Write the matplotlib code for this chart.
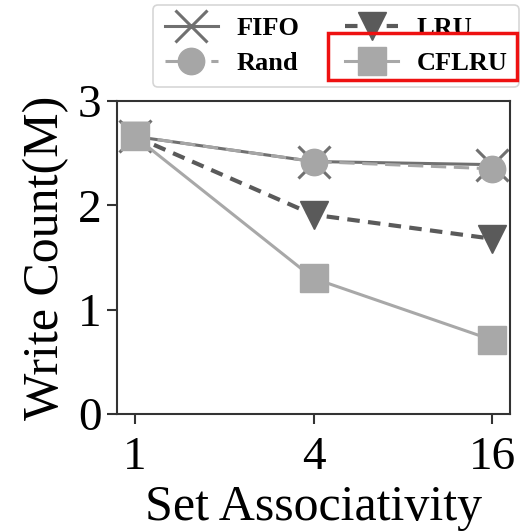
import matplotlib
matplotlib.use("Agg")
import matplotlib.pyplot as plt
from matplotlib.patches import Rectangle

# Data
set_assoc = ["1", "4", "16"]
fifo = [2.66, 2.42, 2.39]
rand = [2.66, 2.42, 2.35]
lru = [2.66, 1.91, 1.68]
cflru = [2.66, 1.30, 0.71]

plt.rcParams["font.family"] = ["Liberation Serif", "DejaVu Serif"]

W, H = 521, 532
fig = plt.figure(figsize=(W / 100, H / 100), dpi=100)
ax = fig.add_axes([117 / W, 1 - 414 / H, (510 - 117) / W, (414 - 101) / H])

xs = list(range(len(set_assoc)))
h1, = ax.plot(xs, fifo, color="#707070", lw=2.2, ls="-", marker="x",
              ms=23, mew=2.2, label="FIFO")
h2, = ax.plot(xs, rand, color="#a6a6a6", lw=2.2, ls=(0, (5, 2.5)), marker="o",
              ms=19, label="Rand")
h3, = ax.plot(xs, lru, color="#5a5a5a", lw=3, ls=(0, (3, 2)), marker="v",
              ms=20, label="LRU")
h4, = ax.plot(xs, cflru, color="#a8a8a8", lw=2.2, ls="-", marker="s",
              ms=20, label="CFLRU")

ax.set_xlim(-0.1, 2.1)
ax.set_ylim(0, 3)
ax.set_xticks(xs)
ax.set_xticklabels(set_assoc)
ax.set_yticks([0, 1, 2, 3])
ax.tick_params(axis="both", direction="out", length=7, width=1.5,
               labelsize=34, color="#333333")
ax.tick_params(axis="x", pad=9)
ax.tick_params(axis="y", pad=4)
for s in ax.spines.values():
    s.set_linewidth(1.5)
    s.set_color("#333333")

ax.set_xlabel("Set Associativity", fontsize=36, labelpad=4)
ax.set_ylabel("Write Count(M)", fontsize=36, labelpad=6)

leg = fig.legend(handles=[h1, h2, h3, h4], ncol=2, loc="upper left",
                 bbox_to_anchor=(153 / W, 1 - 5 / H), borderaxespad=0,
                 prop={"family": "Liberation Serif", "weight": "bold", "size": 19},
                 frameon=True, fancybox=True, edgecolor="#cccccc",
                 handlelength=2.0, columnspacing=1.75, handletextpad=0.7,
                 labelspacing=0.42, borderpad=0.45, markerscale=1.0)
leg.get_frame().set_linewidth(1.2)

# Highlight box around the CFLRU entry
fig.patches.append(Rectangle((328 / W, 1 - 80 / H), (517 - 328) / W, (80 - 33) / H,
                             transform=fig.transFigure, fill=False,
                             edgecolor="#ee1111", lw=2.5, zorder=10))

fig.savefig("out.png", dpi=100)
